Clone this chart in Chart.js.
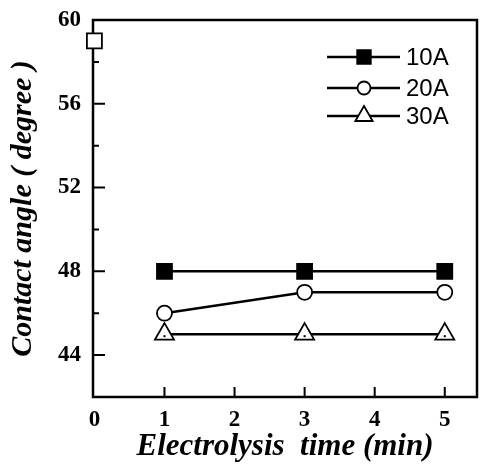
<!DOCTYPE html>
<html>
<head>
<meta charset="utf-8">
<script src="https://cdn.jsdelivr.net/npm/chart.js@4/dist/chart.umd.min.js"></script>
<style>
  html, body { margin: 0; padding: 0; background: #fff; }
  #wrap { width: 481px; height: 470px; }
</style>
</head>
<body>
<div id="wrap"><canvas id="chart" width="481" height="470"></canvas></div>
<script>
/* contact angle vs electrolysis time */

const times = [1, 3, 5];
const angle10A = [48, 48, 48];
const angle20A = [46, 47, 47];
const angle30A = [45, 45, 45];
const untreatedTime = [0];
const untreatedAngle = [59];

const xTicks = [0, 1, 2, 3, 4, 5];
const yTicks = [44, 48, 52, 56, 60];
const yMinorTicks = [46, 50, 54, 58];
const legendLabels = ['10A', '20A', '30A'];

const serif = "'Liberation Serif', 'Times New Roman', serif";
const toPoints = (xs, ys) => xs.map((x, i) => ({ x: x, y: ys[i] }));

// frame + inward ticks, drawn under the markers
const framePlugin = {
  id: 'frame',
  beforeDatasetsDraw(chart) {
    const { ctx: c, chartArea: { left, right, top, bottom }, scales: { x, y } } = chart;
    c.save();
    c.strokeStyle = '#000';
    c.lineWidth = 2.5;
    c.strokeRect(left, top, right - left, bottom - top);
    c.lineWidth = 2;
    c.beginPath();
    xTicks.slice(1).forEach(v => {
      const px = x.getPixelForValue(v);
      c.moveTo(px, bottom);
      c.lineTo(px, bottom - 10);
    });
    yTicks.forEach(v => {
      const py = y.getPixelForValue(v);
      c.moveTo(left, py);
      c.lineTo(left + 12, py);
    });
    yMinorTicks.forEach(v => {
      const py = y.getPixelForValue(v);
      c.moveTo(left, py);
      c.lineTo(left + 6, py);
    });
    c.stroke();
    c.restore();
  },
  afterDatasetsDraw(chart) {
    // small dot inside each triangle
    const c = chart.ctx;
    const meta = chart.getDatasetMeta(2);
    c.save();
    c.fillStyle = '#000';
    meta.data.forEach(pt => {
      c.fillRect(pt.x - 1, pt.y + 1, 2, 2);
    });
    c.restore();
  }
};

// legend: line with marker in the middle, label on the right
const legendPlugin = {
  id: 'lineLegend',
  afterDraw(chart) {
    const c = chart.ctx;
    const rows = [57, 88, 116];
    c.save();
    legendLabels.forEach((label, i) => {
      const ds = chart.data.datasets[i];
      const yy = rows[i];
      c.strokeStyle = '#000';
      c.lineWidth = 2.5;
      c.beginPath();
      c.moveTo(327, yy);
      c.lineTo(400, yy);
      c.stroke();
      c.fillStyle = ds.pointBackgroundColor;
      c.lineWidth = 1.8;
      Chart.helpers.drawPoint(c, {
        pointStyle: ds.pointStyle,
        radius: ds.pointRadius - 1,
        borderWidth: 1.8
      }, 364, yy);
      c.fillStyle = '#000';
      c.font = "24px 'Liberation Sans', Arial, sans-serif";
      c.textBaseline = 'middle';
      c.textAlign = 'left';
      c.fillText(label, 406, yy + 1);
    });
    c.restore();
  }
};

const lineStyle = {
  borderColor: '#000',
  borderWidth: 2.5,
  pointBorderColor: '#000',
  pointBorderWidth: 1.8,
  tension: 0,
  fill: false,
};

new Chart(document.getElementById('chart'), {
  type: 'line',
  data: {
    datasets: [
      Object.assign({}, lineStyle, {
        label: '10A',
        data: toPoints(times, angle10A),
        pointStyle: 'rect',
        pointRadius: 10.6,
        pointBackgroundColor: '#000',
      }),
      Object.assign({}, lineStyle, {
        label: '20A',
        data: toPoints(times, angle20A),
        pointStyle: 'circle',
        pointRadius: 7.5,
        pointBackgroundColor: '#fff',
      }),
      Object.assign({}, lineStyle, {
        label: '30A',
        data: toPoints(times, angle30A),
        pointStyle: 'triangle',
        pointRadius: 11,
        pointBackgroundColor: '#fff',
      }),
      Object.assign({}, lineStyle, {
        label: 'untreated',
        data: toPoints(untreatedTime, untreatedAngle),
        showLine: false,
        pointStyle: 'rect',
        pointRadius: 10.6,
        pointBackgroundColor: '#fff',
        clip: false,
      }),
    ]
  },
  options: {
    responsive: false,
    animation: false,
    events: [],
    layout: { autoPadding: false, padding: { top: 20, right: 4, left: 0, bottom: 0 } },
    plugins: {
      legend: { display: false },
      tooltip: { enabled: false },
    },
    scales: {
      x: {
        type: 'linear',
        min: -0.02,
        max: 5.46,
        afterBuildTicks: (s) => { s.ticks = xTicks.map(v => ({ value: v })); },
        afterFit: (s) => { s.height = 73; s.paddingLeft = 0; s.paddingRight = 0; },
        grid: { display: false, drawTicks: false },
        border: { display: false },
        ticks: {
          color: '#000',
          padding: 9,
          maxRotation: 0,
          font: { family: serif, size: 23, weight: 'bold' },
        },
        title: {
          display: true,
          text: 'Electrolysis  time (min)',
          color: '#000',
          padding: { top: 0, bottom: 4 },
          font: { family: serif, size: 31, weight: 'bold', style: 'italic' },
        },
      },
      y: {
        min: 42,
        max: 60,
        afterBuildTicks: (s) => { s.ticks = yTicks.map(v => ({ value: v })); },
        afterFit: (s) => { s.width = 93; s.paddingTop = 0; s.paddingBottom = 0; },
        grid: { display: false, drawTicks: false },
        border: { display: false },
        ticks: {
          color: '#000',
          padding: 12,
          font: { family: serif, size: 23, weight: 'bold' },
        },
        title: {
          display: true,
          text: 'Contact angle ( degree )',
          color: '#000',
          padding: { top: 5, bottom: 0 },
          font: { family: serif, size: 30, weight: 'bold', style: 'italic' },
        },
      },
    },
  },
  plugins: [framePlugin, legendPlugin],
});
</script>
</body>
</html>
